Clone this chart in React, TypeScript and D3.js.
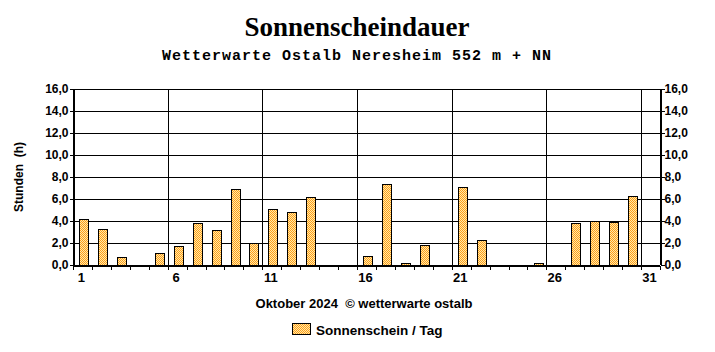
import React, { useEffect, useRef } from "react";
import * as d3 from "d3";

const days = d3.range(1, 32);
const sunHours = [
  4.2, 3.3, 0.7, 0, 1.1, 1.7, 3.8, 3.2, 6.9, 2.0,
  5.1, 4.8, 6.2, 0, 0, 0.8, 7.4, 0.2, 1.8, 0,
  7.1, 2.3, 0, 0, 0.2, 0, 3.8, 4.0, 3.9, 6.3, 0,
];
const yTicks = [0, 2, 4, 6, 8, 10, 12, 14, 16];
const labelDays = [1, 6, 11, 16, 21, 26, 31];

const W = 715;
const H = 352;
const margin = { top: 89, right: 55, bottom: 87, left: 73 };

export default function App() {
  const svgRef = useRef<SVGSVGElement>(null);

  useEffect(() => {
    const svg = d3.select(svgRef.current);
    svg.selectAll("*").remove();

    const x = d3
      .scaleLinear()
      .domain([1, 32])
      .range([margin.left, W - margin.right]);
    const y = d3
      .scaleLinear()
      .domain([0, 16])
      .range([H - margin.bottom, margin.top]);

    // checker fill like the original
    const defs = svg.append("defs");
    const pat = defs
      .append("pattern")
      .attr("id", "chk")
      .attr("width", 2)
      .attr("height", 2)
      .attr("patternUnits", "userSpaceOnUse");
    pat.append("rect").attr("width", 2).attr("height", 2).attr("fill", "#ffe9a8");
    pat.append("rect").attr("width", 1).attr("height", 1).attr("fill", "#ff9e1a");
    pat.append("rect").attr("x", 1).attr("y", 1).attr("width", 1).attr("height", 1).attr("fill", "#ff9e1a");

    const g = svg.append("g").attr("shape-rendering", "crispEdges");

    // horizontal grid
    g.selectAll(".hg")
      .data(yTicks)
      .join("line")
      .attr("x1", x(1))
      .attr("x2", x(32))
      .attr("y1", (d) => Math.round(y(d)) + 0.5)
      .attr("y2", (d) => Math.round(y(d)) + 0.5)
      .attr("stroke", "#000");

    // vertical grid every 5 days
    g.selectAll(".vg")
      .data(labelDays)
      .join("line")
      .attr("x1", (d) => Math.round(x(d)) + 0.5)
      .attr("x2", (d) => Math.round(x(d)) + 0.5)
      .attr("y1", y(16))
      .attr("y2", y(0))
      .attr("stroke", "#000");

    // right border
    g.append("line")
      .attr("x1", Math.round(x(32)) + 0.5)
      .attr("x2", Math.round(x(32)) + 0.5)
      .attr("y1", y(16))
      .attr("y2", y(0))
      .attr("stroke", "#000");

    // bars
    const slot = x(2) - x(1);
    g.selectAll(".bar")
      .data(days.map((d, i) => ({ day: d, v: sunHours[i] })).filter((d) => d.v > 0))
      .join("rect")
      .attr("x", (d) => Math.round(x(d.day) + slot * 0.32) + 0.5)
      .attr("width", Math.round(slot * 0.48))
      .attr("y", (d) => Math.round(y(d.v)) + 0.5)
      .attr("height", (d) => Math.round(y(0)) - Math.round(y(d.v)))
      .attr("fill", "url(#chk)")
      .attr("stroke", "#000");

    // axes
    const tickFmt = (d: d3.NumberValue) => d3.format(".1f")(+d).replace(".", ",");
    const left = svg
      .append("g")
      .attr("transform", `translate(${Math.round(x(1)) + 0.5},0)`)
      .call(d3.axisLeft(y).tickValues(yTicks).tickSize(4).tickFormat(tickFmt));
    const right = svg
      .append("g")
      .attr("transform", `translate(${Math.round(x(32)) + 0.5},0)`)
      .call(d3.axisRight(y).tickValues(yTicks).tickSize(4).tickFormat(tickFmt));
    const bottom = svg
      .append("g")
      .attr("transform", `translate(0,${Math.round(y(0)) + 0.5})`)
      .call(d3.axisBottom(x).tickValues(d3.range(1, 33)).tickSize(4).tickFormat(() => ""));
    [left, right, bottom].forEach((a) => {
      a.select(".domain").attr("stroke", "#000").attr("shape-rendering", "crispEdges");
      a.selectAll(".tick line").attr("stroke", "#000").attr("shape-rendering", "crispEdges");
      a.selectAll("text")
        .attr("fill", "#000")
        .attr("font-family", "Liberation Sans, Arial, sans-serif")
        .attr("font-weight", "bold")
        .attr("font-size", 12);
    });
    left.selectAll("text").attr("x", -5);
    right.selectAll("text").attr("x", 4);

    // day labels centred in their slot
    svg
      .append("g")
      .selectAll("text")
      .data(labelDays)
      .join("text")
      .attr("x", (d) => x(d) + slot / 2 - 1)
      .attr("y", y(0) + 17)
      .attr("text-anchor", "middle")
      .attr("font-family", "Liberation Sans, Arial, sans-serif")
      .attr("font-weight", "bold")
      .attr("font-size", 13)
      .text((d) => d);

    // titles
    svg
      .append("text")
      .attr("x", 357)
      .attr("y", 36)
      .attr("text-anchor", "middle")
      .attr("font-family", "Liberation Serif, Times New Roman, serif")
      .attr("font-weight", "bold")
      .attr("font-size", 27)
      .text("Sonnenscheindauer");

    svg
      .append("text")
      .attr("x", 357)
      .attr("y", 60)
      .attr("text-anchor", "middle")
      .attr("font-family", "Liberation Mono, Courier New, monospace")
      .attr("font-weight", "bold")
      .attr("font-size", 15)
      .attr("letter-spacing", 1)
      .text("Wetterwarte Ostalb Neresheim 552 m + NN");

    svg
      .append("text")
      .attr("transform", `translate(23,${(y(0) + y(16)) / 2}) rotate(-90)`)
      .attr("text-anchor", "middle")
      .attr("font-family", "Liberation Sans, Arial, sans-serif")
      .attr("font-weight", "bold")
      .attr("font-size", 12)
      .attr("xml:space", "preserve")
      .text("Stunden  (h)");

    svg
      .append("text")
      .attr("x", 364)
      .attr("y", 308)
      .attr("text-anchor", "middle")
      .attr("font-family", "Liberation Sans, Arial, sans-serif")
      .attr("font-weight", "bold")
      .attr("font-size", 13)
      .attr("xml:space", "preserve")
      .text("Oktober 2024  \u00a9 wetterwarte ostalb");

    // legend
    svg
      .append("rect")
      .attr("x", 292.5)
      .attr("y", 323.5)
      .attr("width", 18)
      .attr("height", 11)
      .attr("fill", "url(#chk)")
      .attr("stroke", "#000")
      .attr("shape-rendering", "crispEdges");
    svg
      .append("text")
      .attr("x", 316)
      .attr("y", 335)
      .attr("font-family", "Liberation Sans, Arial, sans-serif")
      .attr("font-weight", "bold")
      .attr("font-size", 13.5)
      .text("Sonnenschein / Tag");
  }, []);

  return (
    <svg
      ref={svgRef}
      width={W}
      height={H}
      style={{ position: "absolute", left: 0, top: 0, background: "#fff" }}
    />
  );
}
